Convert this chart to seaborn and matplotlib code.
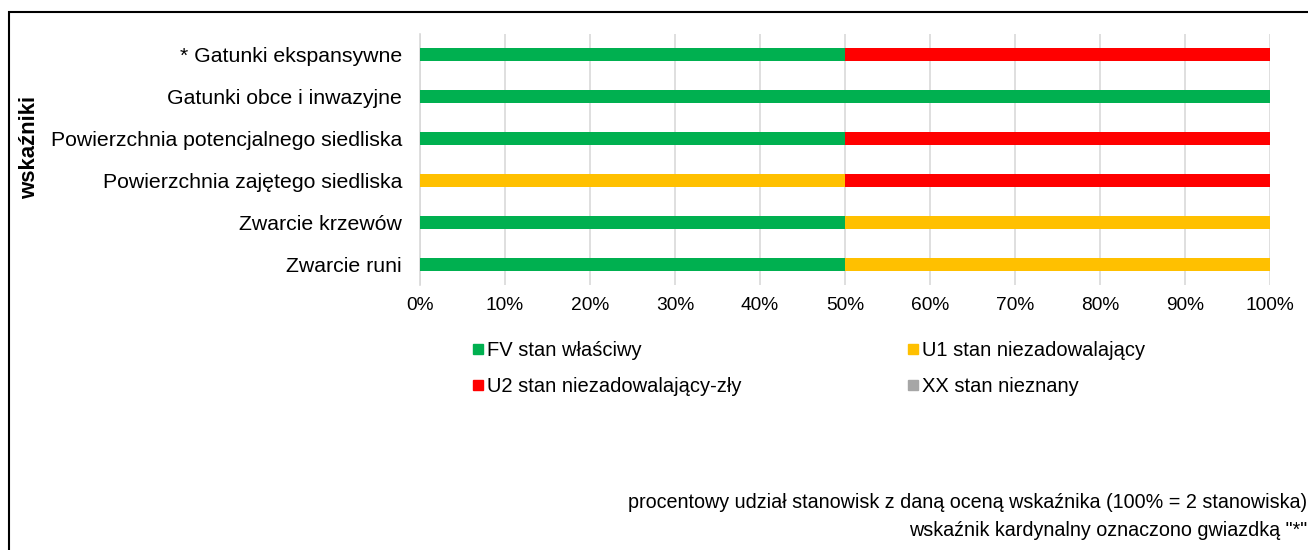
import matplotlib
matplotlib.use("Agg")
import matplotlib.pyplot as plt
from matplotlib.lines import Line2D
from matplotlib.patches import Rectangle
import numpy as np
import pandas as pd
import seaborn as sns

# data (percent of sites per rating)
indicators = [
    "* Gatunki ekspansywne",
    "Gatunki obce i inwazyjne",
    "Powierzchnia potencjalnego siedliska",
    "Powierzchnia zajętego siedliska",
    "Zwarcie krzewów",
    "Zwarcie runi",
]
fv = [50, 100, 50, 0, 50, 50]
u1 = [0, 0, 0, 50, 50, 50]
u2 = [50, 0, 50, 50, 0, 0]
xx = [0, 0, 0, 0, 0, 0]

series_labels = [
    "FV stan właściwy",
    "U1 stan niezadowalający",
    "U2 stan niezadowalający-zły",
    "XX stan nieznany",
]
colors = ["#00B050", "#FFC000", "#FF0000", "#A6A6A6"]

sns.set_theme(style="white")
plt.rcParams["font.family"] = ["Liberation Sans", "DejaVu Sans"]
plt.rcParams["text.color"] = "black"

df = pd.DataFrame({"indicator": indicators, "FV": fv, "U1": u1, "U2": u2, "XX": xx})
parts = ["FV", "U1", "U2", "XX"]
cum = df[parts].cumsum(axis=1) / 100.0

fig = plt.figure(figsize=(13.08, 5.5), dpi=100)
ax = fig.add_axes([420 / 1308, 1 - 285 / 550, 850 / 1308, 251 / 550])

# stacked bars: draw cumulative totals from the largest down
for i in range(len(parts) - 1, -1, -1):
    sns.barplot(x=cum[parts[i]].values, y=df["indicator"], orient="h",
                color=colors[i], width=0.31, ax=ax, saturation=1,
                linewidth=0, zorder=3)

ax.set_xlim(0, 1)
ax.set_xticks(np.arange(0, 1.01, 0.1))
ax.set_xticklabels([f"{int(round(v * 100))}%" for v in np.arange(0, 1.01, 0.1)])
ax.grid(axis="x", color="#D9D9D9", linewidth=1.2, zorder=0)
ax.set_axisbelow(True)
for s in ["top", "right", "bottom"]:
    ax.spines[s].set_visible(False)
ax.spines["left"].set_color("#D9D9D9")
ax.spines["left"].set_linewidth(1.2)
ax.tick_params(axis="y", length=0, pad=13, labelsize=15.3, labelcolor="black")
ax.tick_params(axis="x", length=0, pad=9, labelsize=13.8, labelcolor="black")
ax.set_xlabel("")
ax.set_ylabel("")

fig.text(30 / 1308, 1 - 147 / 550, "wskaźniki", rotation=90, fontsize=16,
         fontweight="bold", ha="center", va="center")

# legend filled column-wise -> reorder so rows read FV, U1 / U2, XX
order = [0, 2, 1, 3]
handles = [Line2D([], [], marker="s", linestyle="none", markersize=7,
                  markerfacecolor=colors[k], markeredgecolor=colors[k]) for k in order]
fig.legend(handles, [series_labels[k] for k in order], ncol=2, mode="expand",
           frameon=False, fontsize=14.5, loc="upper left",
           bbox_to_anchor=(472 / 1308, 1 - 347 / 550, 673 / 1308, 0.01),
           handlelength=0.6, handletextpad=0.15, labelspacing=0.8,
           borderaxespad=0, borderpad=0)

fig.text(1307 / 1308, 1 - 503 / 550,
         "procentowy udział stanowisk z daną oceną wskaźnika (100% = 2 stanowiska)",
         ha="right", va="center", fontsize=14.2)
fig.text(1307 / 1308, 1 - 530 / 550, "wskaźnik kardynalny oznaczono gwiazdką \"*\"",
         ha="right", va="center", fontsize=14.2)

# outer frame
fig.add_artist(Rectangle((9 / 1308, -0.2), 1.5, 1.2 - 12 / 550,
                         transform=fig.transFigure, fill=False,
                         edgecolor="black", linewidth=1.5))

fig.savefig("out.png", dpi=100)
